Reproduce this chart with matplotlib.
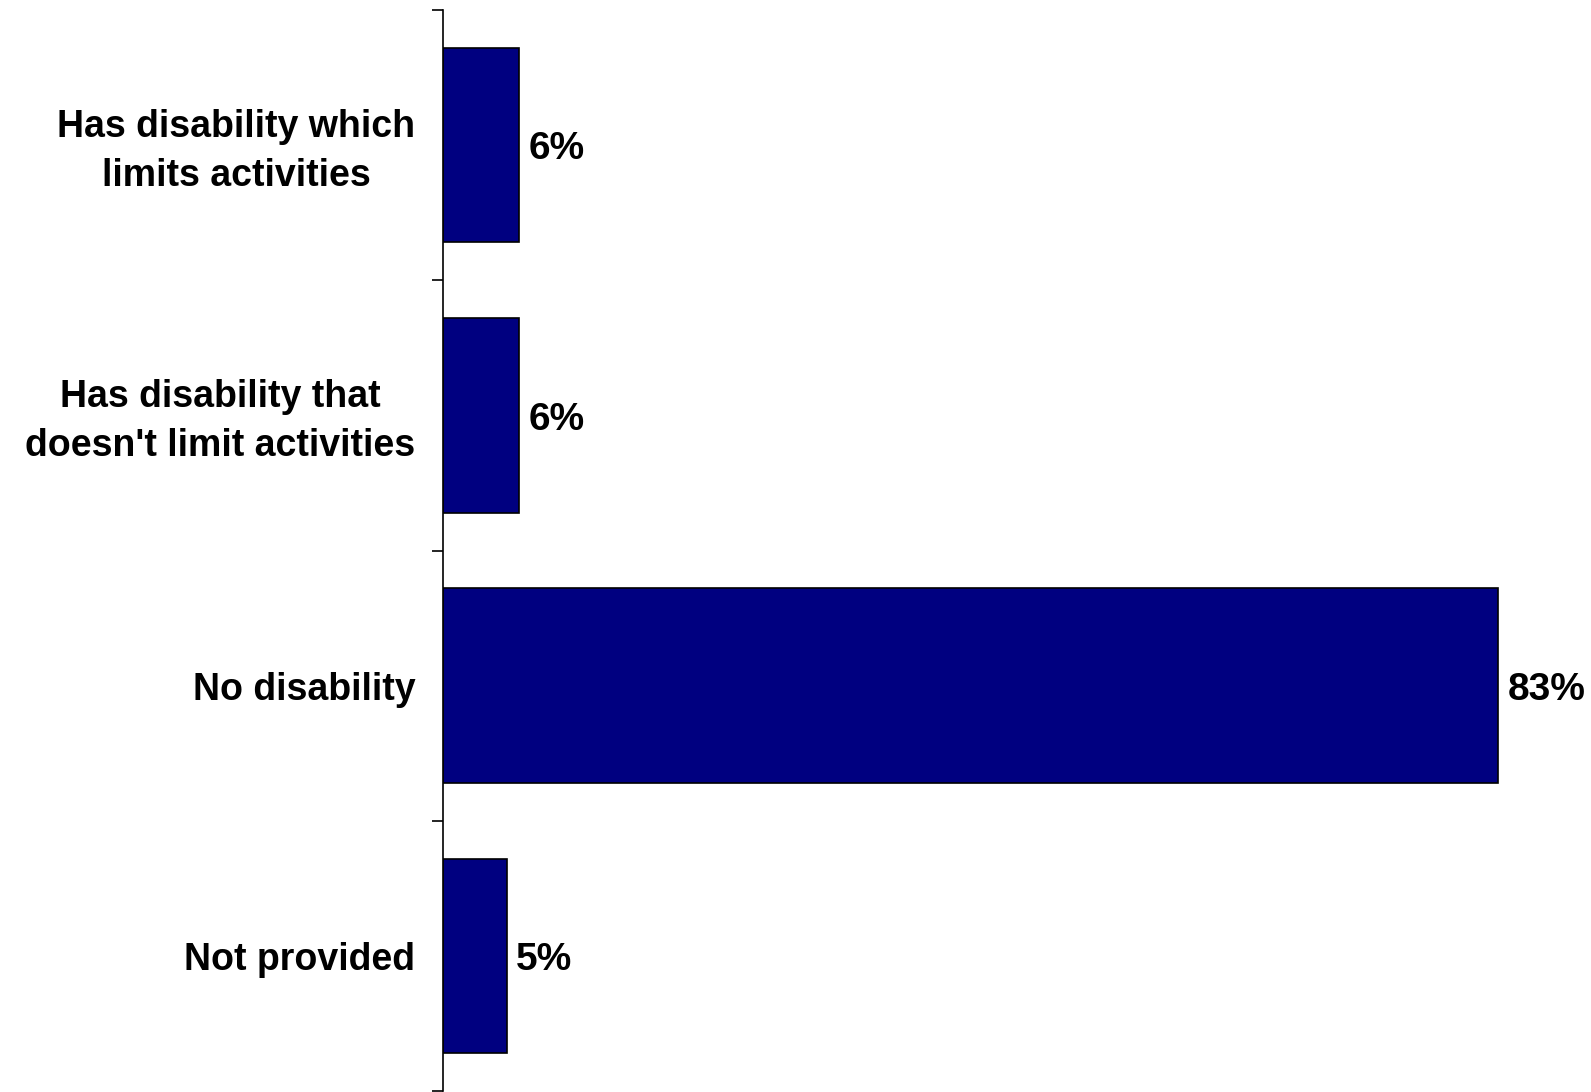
import matplotlib.pyplot as plt
import matplotlib.transforms as mtransforms
import numpy as np

categories = ["Has disability which\nlimits activities",
              "Has disability that\ndoesn't limit activities",
              "No disability",
              "Not provided"]
values = [6, 6, 83, 5]

plt.rcParams['font.family'] = ['Liberation Sans', 'DejaVu Sans']

fig = plt.figure(figsize=(15.91, 10.92), dpi=100)
ax = fig.add_axes([443 / 1591, 1 / 1092, 1 - 443 / 1591, 1081 / 1092])

y = np.arange(len(categories))
bars = ax.barh(y, values, height=0.72, color="#000080", edgecolor="black", linewidth=1.2)

ax.set_xlim(0, 90.3)
ax.set_ylim(len(categories) - 0.5, -0.5)

# tick marks sit between the categories, labels at the bar centres
ax.set_yticks(np.arange(-0.5, len(categories), 1.0))
ax.set_yticklabels([])
ax.tick_params(axis='y', which='major', direction='out', length=8, width=1.2)
ax.set_yticks(y, minor=True)
ax.set_yticklabels(categories, minor=True, fontsize=27, fontweight='bold',
                   multialignment='center', linespacing=1.45)
ax.tick_params(axis='y', which='minor', length=0, pad=20)

# two-line labels sit a little low, nudge them up
nudge = mtransforms.ScaledTranslation(0, 3 / 72, fig.dpi_scale_trans)
for lab in ax.get_yticklabels(minor=True):
    if "\n" in lab.get_text():
        lab.set_transform(lab.get_transform() + nudge)

ax.set_xticks([])
for side in ['top', 'right', 'bottom']:
    ax.spines[side].set_visible(False)
ax.spines['left'].set_linewidth(1.2)

for bar, v in zip(bars, values):
    ax.annotate(f"{v}%", (bar.get_width(), bar.get_y() + bar.get_height() / 2),
                xytext=(7, -3), textcoords='offset points', va='center', ha='left',
                fontsize=28, fontweight='bold')

fig.savefig("out.png", dpi=100)
